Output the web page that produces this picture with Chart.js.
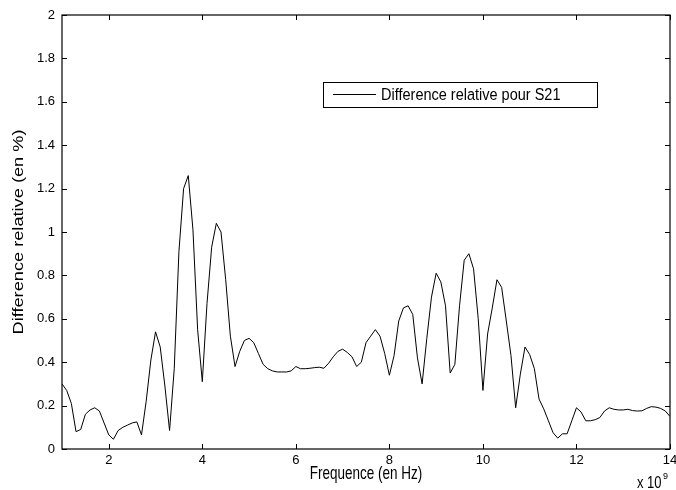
<!DOCTYPE html>
<html lang="fr">
<head>
<meta charset="UTF-8">
<title>Difference relative pour S21</title>
<script src="https://cdn.jsdelivr.net/npm/chart.js"></script>
<style>
  html, body { margin: 0; padding: 0; background: #fff; }
  #chart { display: block; }
</style>
</head>
<body>
<canvas id="chart" width="676" height="490"></canvas>
<script>
// frequency in units of 1e9 Hz
const freq = [
  1.0, 1.1, 1.2, 1.3, 1.4, 1.5, 1.6, 1.7, 1.8, 1.9,
  2.0, 2.1, 2.2, 2.3, 2.4, 2.5, 2.6, 2.7, 2.8, 2.9,
  3.0, 3.1, 3.2, 3.3, 3.4, 3.5, 3.6, 3.7, 3.8, 3.9,
  4.0, 4.1, 4.2, 4.3, 4.4, 4.5, 4.6, 4.7, 4.8, 4.9,
  5.0, 5.1, 5.2, 5.3, 5.4, 5.5, 5.6, 5.7, 5.8, 5.9,
  6.0, 6.1, 6.2, 6.3, 6.4, 6.5, 6.6, 6.7, 6.8, 6.9,
  7.0, 7.1, 7.2, 7.3, 7.4, 7.5, 7.6, 7.7, 7.8, 7.9,
  8.0, 8.1, 8.2, 8.3, 8.4, 8.5, 8.6, 8.7, 8.8, 8.9,
  9.0, 9.1, 9.2, 9.3, 9.4, 9.5, 9.6, 9.7, 9.8, 9.9,
  10.0, 10.1, 10.2, 10.3, 10.4, 10.5, 10.6, 10.7, 10.8, 10.9,
  11.0, 11.1, 11.2, 11.3, 11.4, 11.5, 11.6, 11.7, 11.8, 11.9,
  12.0, 12.1, 12.2, 12.3, 12.4, 12.5, 12.6, 12.7, 12.8, 12.9,
  13.0, 13.1, 13.2, 13.3, 13.4, 13.5, 13.6, 13.7, 13.8, 13.9,
  14.0
];

// relative difference for S21 (in %)
const diffS21 = [
  0.30, 0.27, 0.21, 0.08, 0.09, 0.16, 0.18, 0.19, 0.175, 0.12,
  0.065, 0.045, 0.085, 0.10, 0.11, 0.12, 0.125, 0.065, 0.22, 0.41,
  0.54, 0.47, 0.29, 0.085, 0.37, 0.91, 1.20, 1.26, 1.01, 0.55,
  0.31, 0.67, 0.93, 1.04, 1.00, 0.78, 0.52, 0.38, 0.45, 0.50,
  0.51, 0.49, 0.44, 0.39, 0.37, 0.36, 0.355, 0.355, 0.355, 0.36,
  0.38, 0.37, 0.37, 0.372, 0.375, 0.377, 0.372, 0.395, 0.425, 0.45,
  0.46, 0.445, 0.425, 0.38, 0.40, 0.49, 0.52, 0.55, 0.52, 0.44,
  0.34, 0.43, 0.59, 0.65, 0.66, 0.62, 0.42, 0.30, 0.51, 0.70,
  0.81, 0.77, 0.66, 0.35, 0.39, 0.66, 0.87, 0.90, 0.83, 0.60,
  0.27, 0.53, 0.65, 0.78, 0.745, 0.59, 0.43, 0.19, 0.345, 0.47,
  0.435, 0.37, 0.23, 0.185, 0.13, 0.075, 0.05, 0.07, 0.07, 0.13,
  0.19, 0.17, 0.13, 0.13, 0.135, 0.145, 0.175, 0.19, 0.183, 0.18,
  0.18, 0.183, 0.177, 0.175, 0.176, 0.187, 0.195, 0.193, 0.187, 0.175,
  0.15
];

const xTicks = [2, 4, 6, 8, 10, 12, 14];
const yTicks = [0, 0.2, 0.4, 0.6, 0.8, 1, 1.2, 1.4, 1.6, 1.8, 2];
const seriesLabel = 'Difference relative pour S21';
const xTitle = 'Frequence (en Hz)';
const yTitle = 'Difference relative (en %)';

const FONT = "'Liberation Sans', Arial, Helvetica, sans-serif";
const STRETCH = 1.3; // the original figure text is taller than it is wide

// matlab style box with inward ticks on all four sides, titles, legend, exponent
const boxPlugin = {
  id: 'matlabBox',
  afterDraw(chart) {
    const ctx = chart.ctx;
    const a = chart.chartArea;
    const xs = chart.scales.x, ys = chart.scales.y;
    const tl = 5;
    ctx.save();
    ctx.strokeStyle = '#000';
    ctx.lineWidth = 1.2;
    ctx.strokeRect(a.left, a.top, a.right - a.left, a.bottom - a.top);
    ctx.lineWidth = 1;
    ctx.beginPath();
    xTicks.forEach(v => {
      const px = Math.round(xs.getPixelForValue(v)) + 0.5;
      ctx.moveTo(px, a.bottom); ctx.lineTo(px, a.bottom - tl);
      ctx.moveTo(px, a.top); ctx.lineTo(px, a.top + tl);
    });
    yTicks.forEach(v => {
      const py = Math.round(ys.getPixelForValue(v)) + 0.5;
      ctx.moveTo(a.left, py); ctx.lineTo(a.left + tl, py);
      ctx.moveTo(a.right, py); ctx.lineTo(a.right - tl, py);
    });
    ctx.stroke();

    ctx.fillStyle = '#000';
    ctx.textAlign = 'center';
    ctx.textBaseline = 'middle';

    // x title
    ctx.save();
    ctx.translate((a.left + a.right) / 2, 474);
    ctx.scale(1, STRETCH);
    ctx.font = '13.5px ' + FONT;
    ctx.fillText(xTitle, 0, 0);
    ctx.restore();

    // y title
    ctx.save();
    ctx.translate(19, (a.top + a.bottom) / 2);
    ctx.rotate(-Math.PI / 2);
    ctx.scale(STRETCH, 1);
    ctx.font = '14px ' + FONT;
    ctx.fillText(yTitle, 0, 0);
    ctx.restore();

    // legend
    const lx = 323.5, ly = 82.5, lw = 274, lh = 25;
    ctx.fillStyle = '#fff';
    ctx.fillRect(lx, ly, lw, lh);
    ctx.strokeRect(lx, ly, lw, lh);
    ctx.beginPath();
    ctx.moveTo(333, 94.5); ctx.lineTo(376, 94.5);
    ctx.stroke();
    ctx.fillStyle = '#000';
    ctx.save();
    ctx.translate(381, 95);
    ctx.scale(1, 1.2);
    ctx.font = '14.5px ' + FONT;
    ctx.textAlign = 'left';
    ctx.fillText(seriesLabel, 0, 0);
    ctx.restore();

    // exponent
    ctx.textAlign = 'left';
    ctx.textBaseline = 'alphabetic';
    ctx.save();
    ctx.translate(637, 488);
    ctx.scale(1, 1.2);
    ctx.font = '13px ' + FONT;
    ctx.fillText('x 10', 0, 0);
    ctx.restore();
    ctx.font = '9px ' + FONT;
    ctx.fillText('9', 663, 479);
    ctx.restore();
  }
};

const ctx = document.getElementById('chart').getContext('2d');
new Chart(ctx, {
  type: 'line',
  data: {
    datasets: [{
      label: seriesLabel,
      data: freq.map((f, i) => ({ x: f, y: diffS21[i] })),
      borderColor: '#000',
      borderWidth: 1,
      pointRadius: 0,
      tension: 0,
      fill: false
    }]
  },
  options: {
    responsive: false,
    animation: false,
    devicePixelRatio: 1,
    layout: { autoPadding: false, padding: { left: 0, right: 6, top: 15, bottom: 0 } },
    plugins: {
      legend: { display: false },
      tooltip: { enabled: false }
    },
    scales: {
      x: {
        type: 'linear',
        min: 1,
        max: 14,
        afterBuildTicks: s => { s.ticks = xTicks.map(v => ({ value: v })); },
        afterFit: s => { s.height = 41; s.paddingLeft = 0; s.paddingRight = 0; },
        grid: { display: false, drawTicks: false },
        border: { display: false },
        ticks: {
          color: '#000', font: { family: FONT, size: 13 }, padding: 4,
          maxRotation: 0, autoSkip: false, callback: v => String(v)
        }
      },
      y: {
        type: 'linear',
        min: 0,
        max: 2,
        afterBuildTicks: s => { s.ticks = yTicks.map(v => ({ value: v })); },
        afterFit: s => { s.width = 62; s.paddingTop = 0; s.paddingBottom = 0; },
        grid: { display: false, drawTicks: false },
        border: { display: false },
        ticks: {
          color: '#000', font: { family: FONT, size: 13 }, padding: 7,
          autoSkip: false, callback: v => String(v)
        }
      }
    }
  },
  plugins: [boxPlugin]
});
</script>
</body>
</html>
